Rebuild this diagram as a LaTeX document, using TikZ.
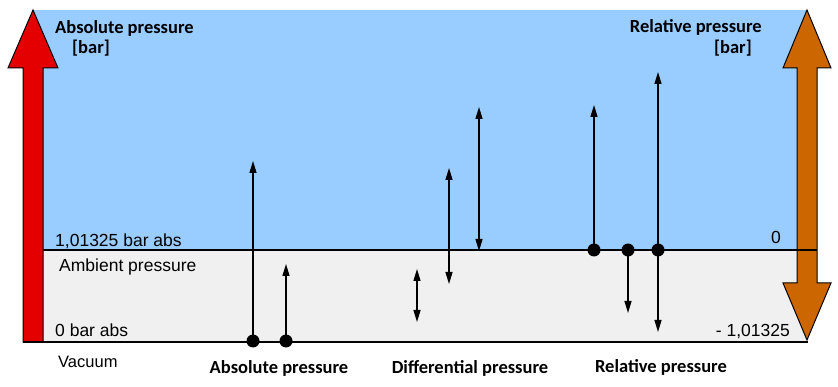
\documentclass[tikz,border=0pt]{standalone}
\usepackage{fontspec}
\setmainfont{Liberation Sans}
\newfontfamily\headfont{Carlito}
\usetikzlibrary{arrows.meta}
\definecolor{skyblue}{RGB}{153,204,255}
\definecolor{ambgrey}{RGB}{240,240,240}
\definecolor{absred}{RGB}{228,0,0}
\definecolor{relorange}{RGB}{204,102,0}
\tikzset{
  headlbl/.style={inner sep=0pt, font=\headfont\bfseries\fontsize{18.5}{20}\selectfont},
  plainlbl/.style={inner sep=0pt, font=\fontsize{17.5}{20}\selectfont},
  bigarrow/.style={draw=black, line width=1pt, line join=miter},
  level/.style={draw=black, line width=1.4pt},
  parrow/.style={draw=black, line width=1.3pt, -{Triangle[length=12pt,width=7pt]}},
  darrow/.style={draw=black, line width=1.3pt, {Triangle[length=12pt,width=7pt]}-{Triangle[length=12pt,width=7pt]}},
  pdot/.style={circle, fill=black, minimum size=13pt, inner sep=0pt},
}
\begin{document}
\begin{tikzpicture}[x=1pt,y=-1pt]
\useasboundingbox (0,0) rectangle (838,387);
% backgrounds
\fill[skyblue] (33,10) rectangle (807,250);
\fill[ambgrey] (33,250) rectangle (807,342);
% big arrows
\draw[bigarrow, fill=absred] (23,342) -- (23,68) -- (8,68) -- (33,10) -- (58,68) -- (43,68) -- (43,342) -- cycle;
\draw[bigarrow, fill=relorange] (797,283) -- (797,68) -- (783,68) -- (807,10) -- (831,68) -- (817,68) -- (817,283) -- (831,283) -- (807,340) -- (783,283) -- cycle;
% level lines
\coordinate (ambL) at (43,250);
\coordinate (ambR) at (817,250);
\coordinate (vacL) at (23,342);
\coordinate (vacR) at (808,342);
\draw[level] (ambL) -- (ambR);
\draw[level] (vacL) -- (vacR);
% labels
\node[headlbl, anchor=base west] (ahead) at (55,34) {Absolute pressure};
\node[headlbl, anchor=base west] (abar) at (72,54) {[bar]};
\node[headlbl, anchor=base east] (rhead) at (762,33) {Relative pressure};
\node[headlbl, anchor=base east] (rbar) at (752,54) {[bar]};
\node[plainlbl, anchor=base west] (lamb) at (55,247) {1,01325 bar abs};
\node[plainlbl, anchor=base west] (lambt) at (59,272) {Ambient pressure};
\node[plainlbl, anchor=base west] (lzero) at (55,337) {0 bar abs};
\node[plainlbl, anchor=base west, font=\fontsize{16.5}{20}\selectfont] (lvac) at (58,367) {Vacuum};
\node[plainlbl, anchor=base east] (rzero) at (781,244) {0};
\node[plainlbl, anchor=base east] (rneg) at (790,337) {- 1,01325};
\node[headlbl, anchor=base] (babs) at (279,373) {Absolute pressure};
\node[headlbl, anchor=base] (bdiff) at (470,373) {Differential pressure};
\node[headlbl, anchor=base] (brel) at (661,372) {Relative pressure};
% absolute pressure arrows
\node[pdot] (a1) at (253,341) {};
\node[pdot] (a2) at (286,341) {};
\coordinate (a1t) at (253,161);
\coordinate (a2t) at (286,264);
\draw[parrow] (a1.center) -- (a1t);
\draw[parrow] (a2.center) -- (a2t);
% differential arrows
\coordinate (d1a) at (417,269);
\coordinate (d1b) at (417,322);
\coordinate (d2a) at (449,168);
\coordinate (d2b) at (449,284);
\coordinate (d3a) at (479,107);
\coordinate (d3b) at (479,251);
\draw[darrow] (d1a) -- (d1b);
\draw[darrow] (d2a) -- (d2b);
\draw[darrow] (d3a) -- (d3b);
% relative arrows
\node[pdot] (r1) at (594,250) {};
\node[pdot] (r2) at (628,250) {};
\node[pdot] (r3) at (658,250) {};
\coordinate (r1t) at (594,105);
\coordinate (r2t) at (628,313);
\coordinate (r3t) at (658,332);
\coordinate (r3u) at (658,72);
\draw[parrow] (r1.center) -- (r1t);
\draw[parrow] (r2.center) -- (r2t);
\draw[parrow] (r3.center) -- (r3t);
\draw[parrow] (r3.center) -- (r3u);
\end{tikzpicture}
\end{document}
